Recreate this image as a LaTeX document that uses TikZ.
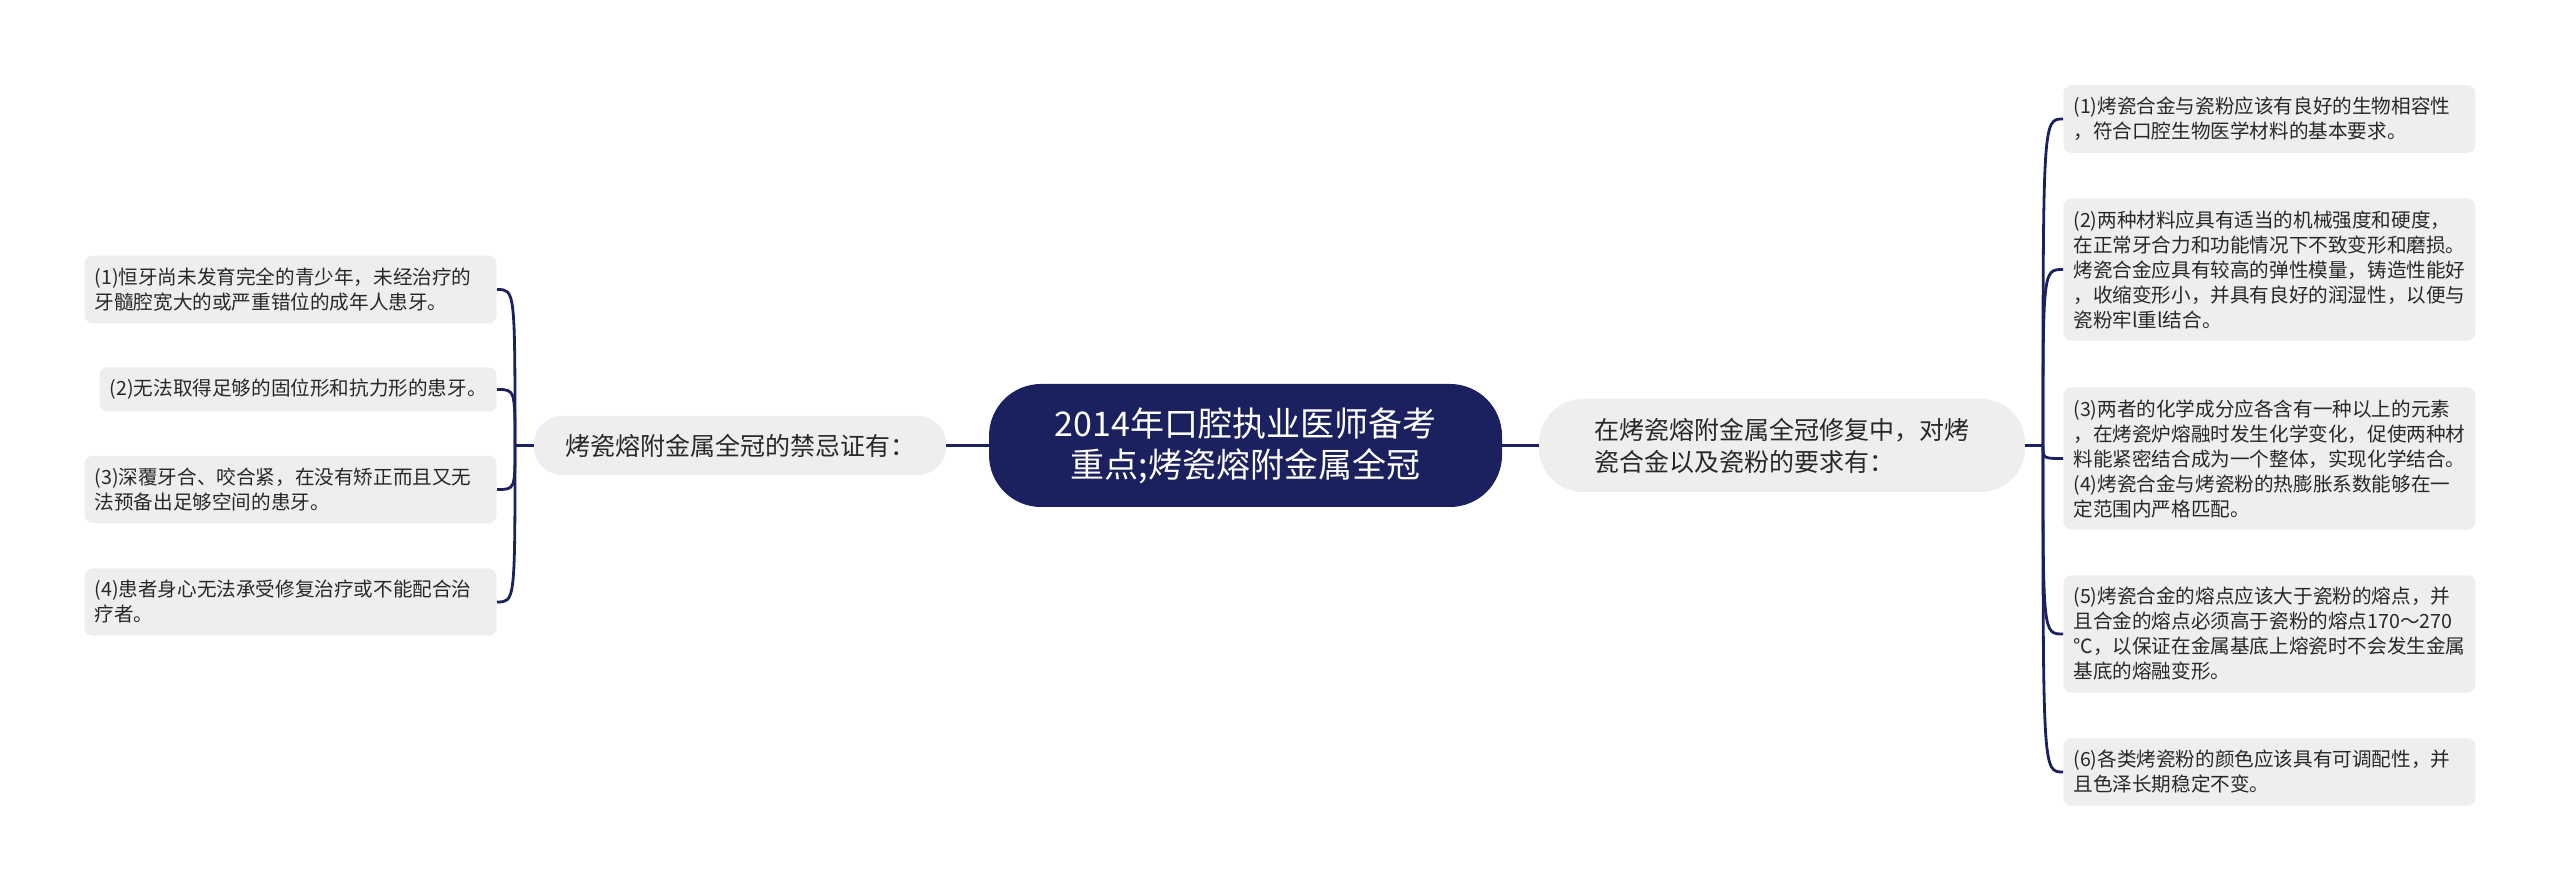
\documentclass[tikz,border=0pt]{standalone}
\usepackage{fontspec}
\setmainfont{Noto Sans CJK SC}
\usetikzlibrary{positioning}
\usetikzlibrary{calc}
\definecolor{navy}{RGB}{27,32,94}
\definecolor{boxgray}{RGB}{238,238,238}
\definecolor{txt}{RGB}{40,40,40}

\tikzset{
    leaf/.style={fill=boxgray, rounded corners=4pt, inner xsep=5pt, inner ysep=6pt,
        align=left, text=txt, font=\fontsize{9.8}{12.5}\selectfont},
    wideleaf/.style={leaf, text width=196pt},
    branch/.style={fill=boxgray, rounded corners=14pt, align=left, text=txt,
        font=\fontsize{12.5}{16}\selectfont},
    root/.style={fill=navy, text=white, rounded corners=26pt, align=center,
        minimum width=256.5pt, minimum height=61.5pt, font=\fontsize{17}{20.5}\selectfont},
    link/.style={navy, line width=1.4pt}
}

\begin{document}
\begin{tikzpicture}[x=0.5pt, y=-0.5pt]
    \useasboundingbox (0,0) rectangle (2560,892);

    % Centre and the two branches
    \node[root] (root) at (1245.5,445.5) {2014年口腔执业医师备考\\重点;烤瓷熔附金属全冠};
    \node[branch, minimum width=206pt, minimum height=29.5pt] (lmid) at (740,445.5) {烤瓷熔附金属全冠的禁忌证有：};
    \node[branch, rounded corners=22pt, minimum width=243pt, minimum height=46.5pt] (rmid) at (1782,445.5)
        {在烤瓷熔附金属全冠修复中，对烤\\瓷合金以及瓷粉的要求有：};

    % Left leaves
    \node[wideleaf, anchor=east] (l1) at (497,289.5) {(1)恒牙尚未发育完全的青少年，未经治疗的\\牙髓腔宽大的或严重错位的成年人患牙。};
    \node[leaf, anchor=east] (l2) at (497,389.5) {(2)无法取得足够的固位形和抗力形的患牙。};
    \node[wideleaf, anchor=east] (l3) at (497,489.5) {(3)深覆牙合、咬合紧，在没有矫正而且又无\\法预备出足够空间的患牙。};
    \node[wideleaf, anchor=east] (l4) at (497,602) {(4)患者身心无法承受修复治疗或不能配合治\\疗者。};

    % Right leaves
    \node[wideleaf, anchor=west] (r1) at (2063,119) {(1)烤瓷合金与瓷粉应该有良好的生物相容性\\，符合口腔生物医学材料的基本要求。};
    \node[wideleaf, anchor=west] (r2) at (2063,269.5) {(2)两种材料应具有适当的机械强度和硬度，\\在正常牙合力和功能情况下不致变形和磨损。\\烤瓷合金应具有较高的弹性模量，铸造性能好\\，收缩变形小，并具有良好的润湿性，以便与\\瓷粉牢l重l结合。};
    \node[wideleaf, anchor=west] (r3) at (2063,458.5) {(3)两者的化学成分应各含有一种以上的元素\\，在烤瓷炉熔融时发生化学变化，促使两种材\\料能紧密结合成为一个整体，实现化学结合。\\(4)烤瓷合金与烤瓷粉的热膨胀系数能够在一\\定范围内严格匹配。};
    \node[wideleaf, anchor=west] (r5) at (2063,634) {(5)烤瓷合金的熔点应该大于瓷粉的熔点，并\\且合金的熔点必须高于瓷粉的熔点170～270\\℃，以保证在金属基底上熔瓷时不会发生金属\\基底的熔融变形。};
    \node[wideleaf, anchor=west] (r6) at (2063,772) {(6)各类烤瓷粉的颜色应该具有可调配性，并\\且色泽长期稳定不变。};

    % Joints
    \coordinate (ljoin) at (515,445.5);
    \coordinate (rjoin) at (2043,445.5);

    % Connectors
    \draw[link] (root.west) -- (lmid.east);
    \draw[link] (root.east) -- (rmid.west);
    \draw[link] (lmid.west) -- (ljoin);
    \draw[link] (rmid.east) -- (rjoin);
    \foreach \n in {l1,l2,l3,l4} {
        \draw[link] (ljoin) .. controls (ljoin |- \n.east) and (ljoin |- \n.east) .. (\n.east);
    }
    \foreach \n in {r1,r2,r3,r5,r6} {
        \draw[link] (rjoin) .. controls (rjoin |- \n.west) and (rjoin |- \n.west) .. (\n.west);
    }
\end{tikzpicture}
\end{document}
